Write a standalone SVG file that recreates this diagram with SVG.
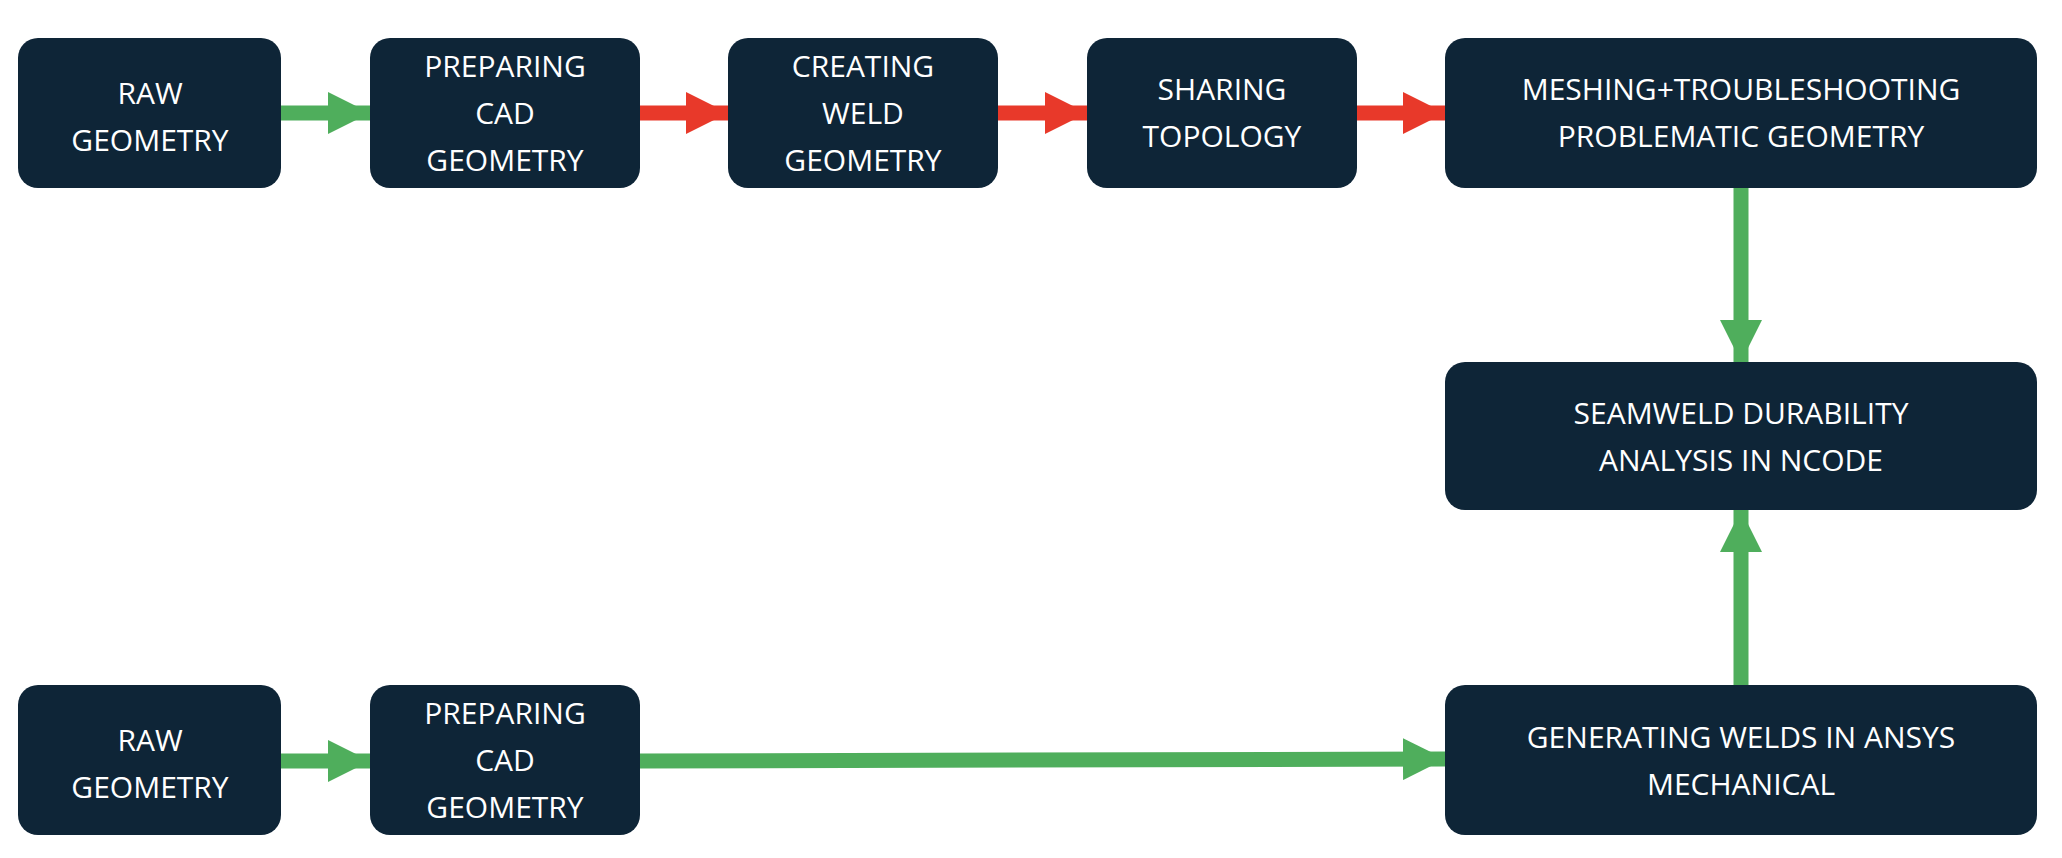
<svg xmlns="http://www.w3.org/2000/svg" width="2062" height="858" viewBox="0 0 2062 858">
<style>
.b{fill:#0E2537}
.t{fill:#fff;font-family:"Open Sans",sans-serif;font-size:30px;text-anchor:middle}
.g{stroke:#4FAE5C;stroke-width:15;fill:none}
.r{stroke:#E8392A;stroke-width:15;fill:none}
</style>
<defs>
<marker id="ag" markerUnits="userSpaceOnUse" markerWidth="42" markerHeight="42" refX="42" refY="21" orient="auto"><path d="M0,0L42,21L0,42z" fill="#4FAE5C"/></marker>
<marker id="ar" markerUnits="userSpaceOnUse" markerWidth="42" markerHeight="42" refX="42" refY="21" orient="auto"><path d="M0,0L42,21L0,42z" fill="#E8392A"/></marker>
</defs>
<rect width="2062" height="858" fill="#fff"/>
<g id="connectors">
<path class="g" d="M281,113H370" marker-end="url(#ag)"/>
<path class="r" d="M640,113H728" marker-end="url(#ar)"/>
<path class="r" d="M998,113H1087" marker-end="url(#ar)"/>
<path class="r" d="M1357,113H1445" marker-end="url(#ar)"/>
<path class="g" d="M1741,188V362" marker-end="url(#ag)"/>
<path class="g" d="M1741,685V510" marker-end="url(#ag)"/>
<path class="g" d="M281,761H370" marker-end="url(#ag)"/>
<path class="g" d="M640,761L1445,759" marker-end="url(#ag)"/>
</g>
<g id="n1"><rect class="b" x="18" y="38" width="263" height="150" rx="20"/><text class="t" x="150" y="104">RAW</text><text class="t" x="150" y="151">GEOMETRY</text></g>
<g id="n2"><rect class="b" x="370" y="38" width="270" height="150" rx="20"/><text class="t" x="505" y="77">PREPARING</text><text class="t" x="505" y="124">CAD</text><text class="t" x="505" y="171">GEOMETRY</text></g>
<g id="n3"><rect class="b" x="728" y="38" width="270" height="150" rx="20"/><text class="t" x="863" y="77">CREATING</text><text class="t" x="863" y="124">WELD</text><text class="t" x="863" y="171">GEOMETRY</text></g>
<g id="n4"><rect class="b" x="1087" y="38" width="270" height="150" rx="20"/><text class="t" x="1222" y="100">SHARING</text><text class="t" x="1222" y="147">TOPOLOGY</text></g>
<g id="n5"><rect class="b" x="1445" y="38" width="592" height="150" rx="20"/><text class="t" x="1741" y="100">MESHING+TROUBLESHOOTING</text><text class="t" x="1741" y="147">PROBLEMATIC GEOMETRY</text></g>
<g id="n6"><rect class="b" x="1445" y="362" width="592" height="148" rx="20"/><text class="t" x="1741" y="424">SEAMWELD DURABILITY</text><text class="t" x="1741" y="471">ANALYSIS IN NCODE</text></g>
<g id="n7"><rect class="b" x="18" y="685" width="263" height="150" rx="20"/><text class="t" x="150" y="751">RAW</text><text class="t" x="150" y="798">GEOMETRY</text></g>
<g id="n8"><rect class="b" x="370" y="685" width="270" height="150" rx="20"/><text class="t" x="505" y="724">PREPARING</text><text class="t" x="505" y="771">CAD</text><text class="t" x="505" y="818">GEOMETRY</text></g>
<g id="n9"><rect class="b" x="1445" y="685" width="592" height="150" rx="20"/><text class="t" x="1741" y="748">GENERATING WELDS IN ANSYS</text><text class="t" x="1741" y="795">MECHANICAL</text></g>
</svg>
